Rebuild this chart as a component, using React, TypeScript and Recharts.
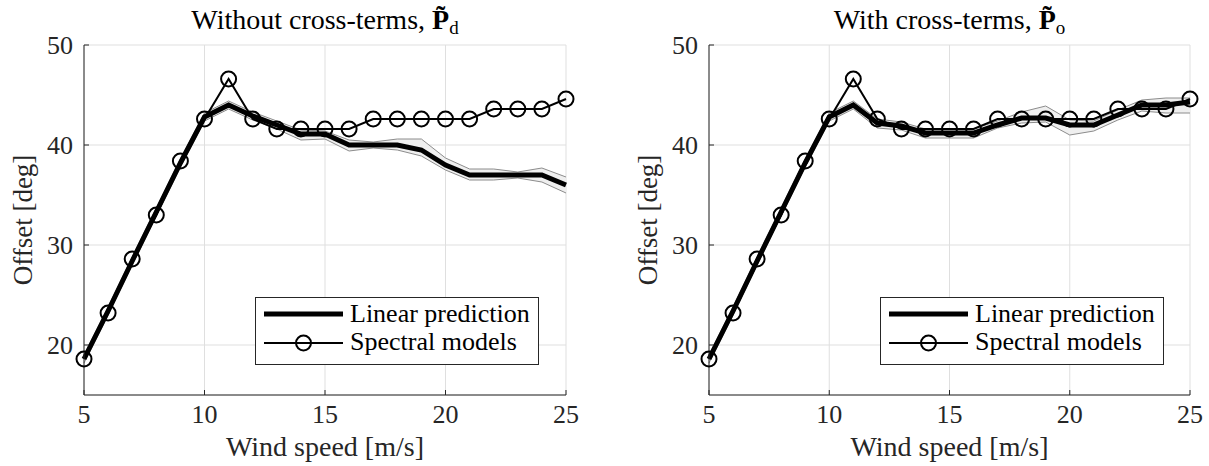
import React from 'react';
import { ComposedChart, Line, Area, XAxis, YAxis, CartesianGrid } from 'recharts';

const windSpeeds = [5, 6, 7, 8, 9, 10, 11, 12, 13, 14, 15, 16, 17, 18, 19, 20, 21, 22, 23, 24, 25];

const linearWithout = [18.6, 23.4, 28.4, 33.3, 38.2, 42.8, 44.0, 42.9, 42.0, 41.1, 41.1, 40.0, 40.0, 40.0, 39.5, 38.0, 37.0, 37.0, 37.0, 37.0, 36.0];
const spectralWithout = [18.6, 23.2, 28.6, 33.0, 38.4, 42.6, 46.6, 42.6, 41.6, 41.6, 41.6, 41.6, 42.6, 42.6, 42.6, 42.6, 42.6, 43.6, 43.6, 43.6, 44.6];
const bandUpperWithout = [19.0, 23.8, 28.8, 33.7, 38.6, 43.2, 44.4, 43.3, 42.4, 41.5, 41.4, 40.5, 40.3, 40.6, 40.6, 38.7, 37.6, 37.6, 37.3, 37.7, 36.8];
const bandLowerWithout = [18.2, 23.0, 28.0, 32.9, 37.8, 42.4, 43.6, 42.5, 41.6, 40.5, 40.6, 39.4, 39.7, 39.5, 38.9, 37.5, 36.5, 36.5, 36.7, 36.3, 35.2];

const linearWith = [18.6, 23.4, 28.4, 33.3, 38.2, 42.8, 44.0, 42.2, 41.9, 41.2, 41.2, 41.2, 42.0, 42.7, 42.7, 42.0, 42.0, 43.0, 44.0, 44.0, 44.3];
const spectralWith = [18.6, 23.2, 28.6, 33.0, 38.4, 42.6, 46.6, 42.6, 41.6, 41.6, 41.6, 41.6, 42.6, 42.6, 42.6, 42.6, 42.6, 43.6, 43.6, 43.6, 44.6];
const bandUpperWith = [19.0, 23.8, 28.8, 33.7, 38.6, 43.2, 44.4, 42.6, 42.3, 41.6, 41.6, 41.6, 42.4, 43.3, 43.9, 42.5, 42.4, 43.5, 44.5, 44.7, 44.7];
const bandLowerWith = [18.2, 23.0, 28.0, 32.9, 37.8, 42.4, 43.6, 41.7, 41.5, 40.7, 40.7, 40.7, 41.7, 42.2, 42.3, 41.0, 41.4, 42.5, 43.4, 43.2, 43.2];

const xTicks = [5, 10, 15, 20, 25];
const yTicks = [20, 30, 40, 50];

const FONT = '"Liberation Serif", serif';
const AXIS = '#262626';

function build(lin: number[], spec: number[], up: number[], low: number[]) {
  return windSpeeds.map((x, i) => ({ x, lin: lin[i], spec: spec[i], band: [low[i], up[i]] }));
}

const dataWithout = build(linearWithout, spectralWithout, bandUpperWithout, bandLowerWithout);
const dataWith = build(linearWith, spectralWith, bandUpperWith, bandLowerWith);

function Legend({ left, top }: { left: number; top: number }) {
  return (
    <div style={{ position: 'absolute', left, top, width: 282, height: 66, border: `1px solid ${AXIS}`, background: '#fff', fontFamily: FONT, fontSize: 26, color: '#000' }}>
      <svg width={90} height={66} style={{ position: 'absolute', left: 0, top: 0 }}>
        <line x1={8} x2={87} y1={16} y2={16} stroke="#000" strokeWidth={5} />
        <line x1={8} x2={87} y1={45} y2={45} stroke="#000" strokeWidth={2} />
        <circle cx={47.5} cy={45} r={7.5} fill="none" stroke="#000" strokeWidth={2} />
      </svg>
      <div style={{ position: 'absolute', left: 94, top: 1, lineHeight: '30px', whiteSpace: 'nowrap' }}>Linear prediction</div>
      <div style={{ position: 'absolute', left: 94, top: 29, lineHeight: '30px', whiteSpace: 'nowrap' }}>Spectral models</div>
    </div>
  );
}

function Panel({ data, title, sub, left, width, marginRight, legendLeft }: any) {
  const plotCenter = 84 + (width - marginRight - 84) / 2;
  return (
    <div style={{ position: 'absolute', left, top: 0, width, height: 466 }}>
      <div style={{ position: 'absolute', left: 0, top: 5, width: plotCenter * 2, textAlign: 'center', fontFamily: FONT, fontSize: 28, lineHeight: '30px', color: '#000', whiteSpace: 'nowrap' }}>
        {title}<b>P&#771;</b><span style={{ fontSize: 19, position: 'relative', top: 5 }}>{sub}</span>
      </div>
      <ComposedChart width={width} height={466} data={data} margin={{ top: 45, right: marginRight, bottom: 0, left: 0 }}>
        <CartesianGrid stroke="#dfdfdf" strokeWidth={1} />
        <XAxis dataKey="x" type="number" domain={[5, 25]} ticks={xTicks} height={71} tickSize={-5} tickMargin={15}
          stroke={AXIS} tick={{ fill: AXIS, fontFamily: FONT, fontSize: 26 }}
          label={{ value: 'Wind speed [m/s]', position: 'insideBottom', offset: 10, fill: AXIS, fontFamily: FONT, fontSize: 28 }} />
        <YAxis type="number" domain={[15, 50]} ticks={yTicks} width={84} tickSize={-5} tickMargin={16}
          stroke={AXIS} tick={{ fill: AXIS, fontFamily: FONT, fontSize: 26 }}
          label={{ value: 'Offset [deg]', angle: -90, position: 'insideLeft', offset: 22, fill: AXIS, fontFamily: FONT, fontSize: 27, style: { textAnchor: 'middle' } }} />
        <Area dataKey="band" type="linear" fill="#efefef" fillOpacity={1} stroke="#8c8c8c" strokeWidth={1} isAnimationActive={false} />
        <Line dataKey="lin" type="linear" stroke="#000" strokeWidth={5} dot={false} isAnimationActive={false} />
        <Line dataKey="spec" type="linear" stroke="#000" strokeWidth={2} dot={{ r: 7.5, fill: 'none', stroke: '#000', strokeWidth: 2 }} isAnimationActive={false} />
      </ComposedChart>
      <Legend left={legendLeft} top={297} />
    </div>
  );
}

export default function App() {
  return (
    <div style={{ position: 'absolute', left: 0, top: 0, width: 1209, height: 466, background: '#fff' }}>
      <Panel data={dataWithout} title="Without cross-terms, " sub="d" left={0} width={600} marginRight={34} legendLeft={255} />
      <Panel data={dataWith} title="With cross-terms, " sub="o" left={625} width={584} marginRight={19} legendLeft={255} />
    </div>
  );
}
